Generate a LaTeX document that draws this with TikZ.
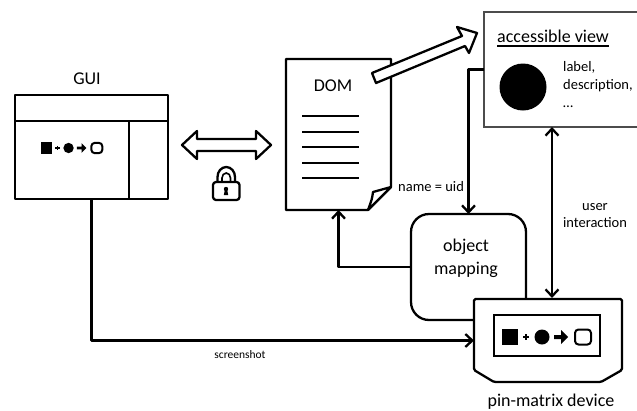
\documentclass[tikz,border=0pt]{standalone}
\usepackage{fontspec}
\setmainfont{Carlito}
\usetikzlibrary{arrows.meta}
\tikzset{
    plain/.style={line width=2.3pt, line join=round},
    link/.style={plain, -{Straight Barb[length=7pt,width=13pt,line width=2.3pt]}},
    link both/.style={plain, {Straight Barb[length=7pt,width=13pt,line width=2.3pt]}-{Straight Barb[length=7pt,width=13pt,line width=2.3pt]}},
    hollow/.style={plain, fill=white},
    tiny text/.style={font=\fontsize{14.5}{17}\selectfont, inner sep=0pt},
    small text/.style={font=\fontsize{11.5}{14}\selectfont, inner sep=0pt},
    big text/.style={font=\fontsize{18}{22}\selectfont, inner sep=0pt},
    region/.style={inner sep=0pt, outer sep=0pt},
    formula/.pic={
        \fill (-45,-8) rectangle (-29,8);
        \draw[line width=1.2pt] (-24,0) -- (-18,0) (-21,-3) -- (-21,3);
        \fill (-5,0) circle (7.5);
        \fill (7,-2) -- (14,-2) -- (14,-7) -- (21,0) -- (14,7) -- (14,2) -- (7,2) -- cycle;
        \draw[line width=2pt, rounded corners=3.5] (28,-7.5) rectangle (44,7.5);
    }
}
\begin{document}
\begin{tikzpicture}[x=1pt, y=-1pt]
    \useasboundingbox (0,0) rectangle (637,410);

    % gui window
    \node[plain, draw, region, minimum width=153pt, minimum height=104pt] (gui) at (91.5,147) {};
    \node[big text] (guilabel) at (87,79) {GUI};
    \draw[plain] (gui.west |- 0,121) -- (gui.east |- 0,121);
    \draw[plain] (129,121) -- (129,199);
    \pic[scale=.69] (guiformula) at (72,148) {formula};

    % encrypted channel
    \draw[hollow] (182,145) -- (197,131) -- (197,139) -- (256,139) -- (256,131)
        -- (271,145) -- (256,159) -- (256,151) -- (197,151) -- (197,159) -- cycle;
    \draw[plain, rounded corners=3] (213,182) rectangle (239.5,200);
    \draw[plain] (217.5,182) -- (217.5,177) arc (180:360:8.75 and 10) -- (235,182);
    \draw[line width=1.6pt] (222,182) -- (222,178) arc (180:360:4.25 and 5) -- (230.5,182);
    \fill (226,189) circle (2.2);
    \fill (225,189) -- (227,189) -- (228.2,195) -- (223.8,195) -- cycle;

    % dom page
    \node[region, minimum width=105pt, minimum height=151pt] (dom) at (338.5,134.5) {};
    \draw[plain] (dom.north west) -- (dom.north east) -- (391,187) -- (368,210)
        -- (dom.south west) -- cycle;
    \draw[plain, fill=white] (391,187) .. controls (382,190) .. (373,192)
        .. controls (372,199) .. (368,210) -- cycle;
    \node[big text] (domlabel) at (333,86) {DOM};
    \foreach \y in {116,132,147,163,178}
        \draw[plain] (302,\y) -- (359,\y);

    % accessible view
    \node[draw=black!70, line width=1.2pt, region, minimum width=156pt, minimum height=115pt] (view) at (562,69.5) {};
    \node[big text, anchor=base west] (viewtitle) at (497,42) {accessible view};
    \draw[plain] (viewtitle.south west |- 0,46) -- (viewtitle.south east |- 0,46);
    \fill (523,87) circle (23.5);
    \node[tiny text, anchor=west, align=left] (viewtext) at (563,85) {label,\\[1pt]description,\\[1pt]\ldots};

    % dom to view
    \draw[hollow] (372,73) -- (462,36) -- (457,27) -- (477,33) -- (469,53) -- (465,46) -- (376,83) -- cycle;

    % object mapping
    \node[plain, draw, region, rounded corners=18, minimum width=115pt, minimum height=106pt] (objmap) at (468.5,267) {};
    \node[big text, align=center] (objmaplabel) at (466,258) {object\\[1pt]mapping};

    % pin-matrix device
    \node[region, minimum width=148pt, minimum height=83pt] (device) at (548,340.5) {};
    \draw[hollow, rounded corners=1.5] (device.north west) -- (device.north east) -- (622,370)
        -- (601,382) -- (494,382) -- (device.west |- 0,370) -- cycle;
    \node[draw, line width=2.3pt, region, minimum width=106pt, minimum height=41pt] (screen) at (547,335.5) {};
    \pic (deviceformula) at (547,337) {formula};
    \node[big text] (devicelabel) at (551,402) {pin-matrix device};

    % connectors
    \coordinate (viewport) at (552,127);
    \coordinate (deviceport) at (552,298);
    \draw[link] (gui.south) |- (device.west);
    \draw[link] (objmap.west) -| (dom.south);
    \draw[link] (view.west) -| (objmap.north);
    \draw[link both] (viewport) -- (deviceport);

    \node[small text] (screenshot) at (240,355) {screenshot};
    \node[tiny text, anchor=west] (uid) at (398,187) {name = uid};
    \node[tiny text, align=center] (interaction) at (595,216) {user\\[0pt]interaction};
\end{tikzpicture}
\end{document}
